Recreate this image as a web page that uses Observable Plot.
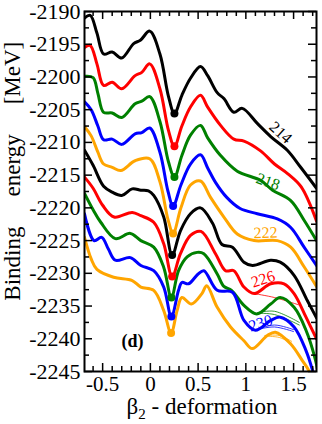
<!DOCTYPE html>
<html><head><meta charset="utf-8">
<script src="https://cdn.jsdelivr.net/npm/d3@7"></script>
<script src="https://cdn.jsdelivr.net/npm/@observablehq/plot@0.6"></script>
<style>
body{margin:0;background:#fff}
#chart{width:322px;height:424px}
#chart svg, #chart svg text{font-family:"Liberation Serif", "Times New Roman", serif !important;}
</style></head><body><div id="chart"></div>
<script>
// ---- data: [beta2, binding energy in MeV] ----
const isotopes = [214, 216, 218, 220, 222, 224, 226, 228, 230, 232];
const curve214 = [[-0.69,-2191.0],[-0.63,-2190.6],[-0.56,-2193.3],[-0.49,-2196.5],[-0.40,-2196.2],[-0.30,-2197.1],[-0.175,-2194.9],[-0.105,-2194.4],[-0.007,-2193.0],[0.10,-2196.5],[0.19,-2203.0],[0.252,-2205.6],[0.33,-2202.8],[0.42,-2200.2],[0.525,-2198.4],[0.60,-2199.8],[0.70,-2202.4],[0.77,-2203.3],[0.874,-2205.4],[0.962,-2204.8],[1.12,-2207.1],[1.26,-2209.1],[1.434,-2211.2],[1.574,-2213.8],[1.74,-2217.0]];
const curve216 = [[-0.69,-2195.5],[-0.63,-2195.2],[-0.56,-2198.0],[-0.49,-2201.3],[-0.40,-2200.8],[-0.30,-2201.8],[-0.16,-2199.8],[-0.09,-2199.3],[-0.007,-2198.0],[0.10,-2201.8],[0.19,-2208.2],[0.252,-2210.6],[0.33,-2207.5],[0.42,-2204.6],[0.525,-2202.8],[0.60,-2204.6],[0.735,-2207.4],[0.874,-2209.5],[0.98,-2209.8],[1.154,-2211.3],[1.30,-2213.3],[1.44,-2214.8],[1.58,-2216.8],[1.74,-2222.0]];
const curve218 = [[-0.69,-2199.9],[-0.60,-2200.1],[-0.55,-2202.5],[-0.49,-2205.4],[-0.40,-2205.5],[-0.30,-2206.2],[-0.16,-2204.1],[-0.09,-2203.7],[-0.007,-2203.0],[0.10,-2206.8],[0.19,-2213.0],[0.252,-2215.3],[0.33,-2212.0],[0.42,-2208.9],[0.525,-2207.4],[0.60,-2209.3],[0.735,-2212.0],[0.91,-2214.4],[1.154,-2215.8],[1.28,-2217.3],[1.47,-2218.9],[1.61,-2221.9],[1.74,-2225.0]];
const curve220 = [[-0.69,-2203.8],[-0.62,-2205.0],[-0.55,-2207.5],[-0.49,-2209.6],[-0.40,-2209.5],[-0.30,-2210.3],[-0.16,-2208.7],[-0.09,-2208.5],[-0.007,-2207.8],[0.10,-2211.5],[0.185,-2217.5],[0.238,-2219.7],[0.32,-2216.5],[0.42,-2213.3],[0.525,-2211.9],[0.60,-2213.9],[0.682,-2216.1],[0.80,-2218.4],[0.94,-2220.1],[1.12,-2220.9],[1.33,-2221.7],[1.47,-2223.0],[1.61,-2226.0],[1.74,-2228.8]];
const curve222 = [[-0.69,-2207.6],[-0.62,-2209.0],[-0.55,-2211.5],[-0.49,-2213.3],[-0.40,-2213.8],[-0.31,-2214.3],[-0.16,-2212.8],[-0.007,-2212.5],[0.10,-2216.0],[0.185,-2221.8],[0.238,-2223.9],[0.32,-2220.0],[0.42,-2216.5],[0.525,-2215.9],[0.63,-2218.4],[0.77,-2221.4],[0.91,-2224.0],[1.087,-2225.0],[1.33,-2225.0],[1.47,-2226.0],[1.61,-2229.0],[1.74,-2232.0]];
const curve224 = [[-0.69,-2211.2],[-0.60,-2213.5],[-0.49,-2216.7],[-0.40,-2217.6],[-0.30,-2218.1],[-0.19,-2217.1],[-0.10,-2217.3],[-0.02,-2217.4],[0.035,-2218.1],[0.14,-2221.4],[0.228,-2227.2],[0.315,-2223.5],[0.42,-2220.9],[0.525,-2220.0],[0.65,-2222.3],[0.75,-2225.6],[0.86,-2226.0],[0.98,-2228.3],[1.07,-2228.8],[1.26,-2228.0],[1.36,-2228.3],[1.505,-2230.3],[1.645,-2234.2],[1.74,-2236.8]];
const curve226 = [[-0.69,-2215.3],[-0.60,-2217.0],[-0.50,-2219.6],[-0.38,-2221.4],[-0.19,-2220.7],[-0.10,-2221.2],[0.035,-2222.2],[0.14,-2225.5],[0.228,-2230.5],[0.315,-2227.0],[0.42,-2224.2],[0.53,-2223.6],[0.682,-2227.0],[0.787,-2229.6],[0.874,-2229.6],[0.98,-2232.1],[1.087,-2233.1],[1.26,-2231.6],[1.40,-2231.6],[1.505,-2233.1],[1.63,-2236.7],[1.74,-2240.0]];
const curve228 = [[-0.69,-2217.8],[-0.60,-2220.3],[-0.52,-2222.2],[-0.367,-2224.7],[-0.21,-2223.9],[-0.10,-2225.0],[0.035,-2226.0],[0.14,-2229.1],[0.22,-2233.7],[0.295,-2229.6],[0.385,-2227.5],[0.49,-2226.8],[0.56,-2227.0],[0.70,-2230.1],[0.77,-2232.0],[0.85,-2232.6],[0.98,-2234.9],[1.115,-2236.2],[1.26,-2234.7],[1.36,-2233.7],[1.505,-2235.2],[1.63,-2238.7],[1.73,-2243.3],[1.76,-2245.5]];
const curve230 = [[-0.69,-2220.9],[-0.59,-2225.0],[-0.51,-2224.5],[-0.44,-2226.3],[-0.367,-2228.0],[-0.21,-2227.6],[-0.10,-2228.8],[0.035,-2229.6],[0.14,-2232.1],[0.22,-2236.6],[0.295,-2232.6],[0.33,-2231.4],[0.40,-2231.6],[0.50,-2230.1],[0.56,-2229.6],[0.70,-2232.6],[0.86,-2232.9],[0.98,-2237.2],[1.10,-2238.7],[1.26,-2237.2],[1.36,-2236.7],[1.505,-2238.2],[1.63,-2241.8],[1.70,-2244.9],[1.72,-2246.0]];
const curve232 = [[-0.69,-2224.5],[-0.62,-2227.8],[-0.56,-2229.4],[-0.385,-2230.6],[-0.19,-2231.1],[-0.10,-2232.1],[0.035,-2232.6],[0.14,-2235.7],[0.217,-2239.1],[0.28,-2235.7],[0.33,-2233.7],[0.43,-2234.7],[0.54,-2233.1],[0.59,-2231.9],[0.70,-2235.2],[0.84,-2238.2],[0.98,-2240.3],[1.067,-2241.5],[1.225,-2239.5],[1.31,-2239.0],[1.47,-2240.8],[1.59,-2243.3],[1.66,-2244.9],[1.68,-2246.0]];

// minima (filled dots)
const minIsotope = [214, 216, 218, 220, 222, 224, 226, 228, 230, 232];
const minBeta    = [0.252, 0.252, 0.252, 0.238, 0.238, 0.228, 0.228, 0.22, 0.22, 0.217];
const minEnergy  = [-2205.6, -2210.6, -2215.3, -2219.7, -2223.9, -2227.2, -2230.5, -2233.7, -2236.6, -2239.1];

// thin alternative paths past the second minimum
const thinIsotope = [226, 228, 228, 230, 230, 232, 232];
const thinPaths = [
  [[1.087,-2233.1],[1.3,-2233.7],[1.55,-2234.8]],
  [[1.12,-2236.1],[1.3,-2236.3],[1.56,-2237.9]],
  [[1.12,-2236.0],[1.3,-2235.8],[1.56,-2237.5]],
  [[1.11,-2238.6],[1.3,-2237.9],[1.50,-2238.6]],
  [[1.11,-2238.6],[1.3,-2238.2],[1.50,-2238.9]],
  [[1.20,-2239.6],[1.35,-2239.8],[1.48,-2240.7]],
  [[1.20,-2239.5],[1.35,-2239.5],[1.48,-2240.4]]
];

// curve labels
const labelText  = ["214", "218", "222", "226", "230"];
const labelBeta  = [1.364, 1.233, 1.207, 1.18, 1.154];
const labelE     = [-2208.5, -2216.0, -2223.8, -2230.9, -2237.6];
const labelAngle = [42, 20, -2, -18, -18];

const xMajor = [-0.5, 0, 0.5, 1, 1.5];
const xMinor = [-0.6,-0.4,-0.3,-0.2,-0.1,0.1,0.2,0.3,0.4,0.6,0.7,0.8,0.9,1.1,1.2,1.3,1.4,1.6,1.7];
const yMajor = [-2245,-2240,-2235,-2230,-2225,-2220,-2215,-2210,-2205,-2200,-2195,-2190];
const yMinor = [-2242.5,-2237.5,-2232.5,-2227.5,-2222.5,-2217.5,-2212.5,-2207.5,-2202.5,-2197.5,-2192.5];

// ---- build tables ----
const allCurves = [curve214, curve216, curve218, curve220, curve222, curve224, curve226, curve228, curve230, curve232];
const palette = ["#000000", "#ff0000", "#008000", "#0000ff", "#ffa500"];
const colorRange = isotopes.map((d, i) => palette[i % 5]);

const rows = allCurves.flatMap((pts, i) => pts.map(([b, e]) => ({A: isotopes[i], b, e})));
const thinRows = thinPaths.flatMap((pts, i) => pts.map(([b, e]) => ({id: i, A: thinIsotope[i], b, e})));
const minRows = minIsotope.map((A, i) => ({A, b: minBeta[i], e: minEnergy[i]}));
const labelRows = labelText.map((t, i) => ({t, A: +t, b: labelBeta[i], e: labelE[i], r: labelAngle[i]}));

const W = 322, H = 424, mL = 84, mR = 6, mT = 11, mB = 53;
const innerW = W - mL - mR, innerH = H - mT - mB;
const FONT = "Liberation Serif";

const plot = Plot.plot({
  width: W, height: H,
  marginLeft: mL, marginRight: mR, marginTop: mT, marginBottom: mB,
  x: {domain: [-0.69, 1.74]},
  y: {domain: [-2245, -2190]},
  color: {type: "ordinal", domain: isotopes, range: colorRange},
  style: {fontFamily: FONT, fontSize: "21px", color: "#000", background: "#fff"},
  marks: [
    Plot.line(thinRows, {x: "b", y: "e", z: "id", stroke: "A", strokeWidth: 0.8, curve: "catmull-rom"}),
    Plot.line(rows, {x: "b", y: "e", z: "A", stroke: "A", strokeWidth: 3, curve: "catmull-rom", clip: true}),
    Plot.dot(minRows, {x: "b", y: "e", fill: "A", r: 4}),
    Plot.text(labelRows, {x: "b", y: "e", text: "t", fill: "A", rotate: "r", fontSize: 16, fontFamily: FONT}),
    Plot.text(["(d)"], {frameAnchor: "bottom-left", dx: 37, dy: -25, fontWeight: "bold", fontSize: 18, fontFamily: FONT}),
    // ticks pointing inward on all four sides
    Plot.tickX(xMajor, {x: d => d, insetTop: innerH - 8, strokeWidth: 1.5}),
    Plot.tickX(xMinor, {x: d => d, insetTop: innerH - 5, strokeWidth: 1.5}),
    Plot.tickX(xMajor, {x: d => d, insetBottom: innerH - 8, strokeWidth: 1.5}),
    Plot.tickX(xMinor, {x: d => d, insetBottom: innerH - 5, strokeWidth: 1.5}),
    Plot.tickY(yMajor, {y: d => d, insetRight: innerW - 8, strokeWidth: 1.5}),
    Plot.tickY(yMinor, {y: d => d, insetRight: innerW - 5, strokeWidth: 1.5}),
    Plot.tickY(yMajor, {y: d => d, insetLeft: innerW - 8, strokeWidth: 1.5}),
    Plot.tickY(yMinor, {y: d => d, insetLeft: innerW - 5, strokeWidth: 1.5}),
    Plot.frame({stroke: "#000", strokeWidth: 2}),
    Plot.axisX({ticks: xMajor, tickSize: 0, tickPadding: 5, tickFormat: d => String(d), label: null, fontSize: 21, fontFamily: FONT}),
    Plot.axisY({ticks: yMajor, tickSize: 0, tickPadding: 4, tickFormat: d => String(d), label: null, fontSize: 22, fontFamily: FONT})
  ]
});
document.getElementById("chart").appendChild(plot);

// axis titles
const svg = d3.select(plot);
const yl = svg.append("text")
  .attr("transform", `translate(20,${mT + innerH * 0.445}) rotate(-90)`)
  .attr("text-anchor", "middle")
  .attr("font-family", FONT)
  .attr("font-size", 23)
  .attr("fill", "#000");
yl.append("tspan").text("Binding");
yl.append("tspan").attr("dx", 30).text("energy");
yl.append("tspan").attr("dx", 30).text("[MeV]");

const xl = svg.append("text")
  .attr("x", mL + innerW / 2 + 2)
  .attr("y", 414)
  .attr("text-anchor", "middle")
  .attr("font-family", FONT)
  .attr("font-size", 23)
  .attr("fill", "#000");
xl.append("tspan").text("β");
xl.append("tspan").attr("font-size", 15).attr("dy", 5).text("2");
xl.append("tspan").attr("dy", -5).text(" - deformation");
</script></body></html>
